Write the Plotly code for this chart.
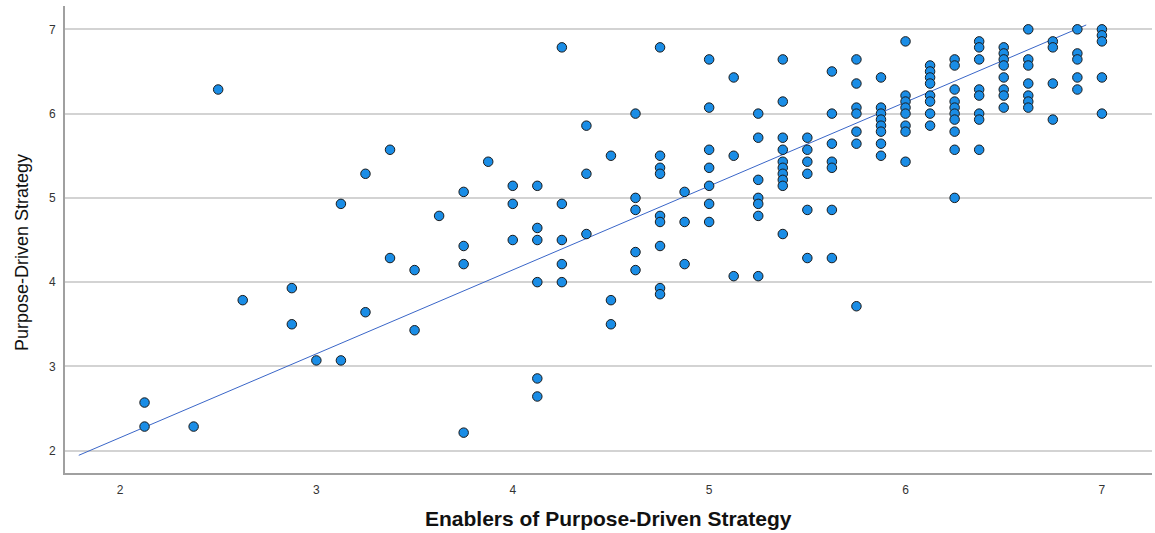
import plotly.graph_objects as go

# Enablers of Purpose-Driven Strategy (x) and Purpose-Driven Strategy (y), read column by column
enablers = (
    [2.125] * 2 + [2.375] + [2.5] + [2.625] + [2.875] * 2 + [3.0] + [3.125] * 2 + [3.25] * 2 +
    [3.375] * 2 + [3.5] * 2 + [3.625] + [3.75] * 4 + [3.875] + [4.0] * 3 + [4.125] * 6 +
    [4.25] * 5 + [4.375] * 3 + [4.5] * 3 + [4.625] * 5 + [4.75] * 9 + [4.875] * 3 + [5.0] * 7 +
    [5.125] * 3 + [5.25] * 7 + [5.375] * 10 + [5.5] * 6 + [5.625] * 7 + [5.75] * 7 +
    [5.875] * 8 + [6.0] * 8 + [6.125] * 8 + [6.25] * 10 + [6.375] * 8 + [6.5] * 8 +
    [6.625] * 7 + [6.75] * 4 + [6.875] * 5 + [7.0] * 5
)
purpose = [
    2.571, 2.286,
    2.286,
    6.286,
    3.786,
    3.929, 3.5,
    3.071,
    4.929, 3.071,
    5.286, 3.643,
    5.571, 4.286,
    4.143, 3.429,
    4.786,
    5.071, 4.429, 4.214, 2.214,
    5.429,
    5.143, 4.929, 4.5,
    5.143, 4.643, 4.5, 4.0, 2.857, 2.643,
    6.786, 4.929, 4.5, 4.214, 4.0,
    5.857, 5.286, 4.571,
    5.5, 3.786, 3.5,
    6.0, 5.0, 4.857, 4.357, 4.143,
    6.786, 5.5, 5.357, 5.286, 4.786, 4.714, 4.429, 3.929, 3.857,
    5.071, 4.714, 4.214,
    6.643, 6.071, 5.571, 5.357, 5.143, 4.929, 4.714,
    6.429, 5.5, 4.071,
    6.0, 5.714, 5.214, 5.0, 4.929, 4.786, 4.071,
    6.643, 6.143, 5.714, 5.571, 5.429, 5.357, 5.286, 5.214, 5.143, 4.571,
    5.714, 5.571, 5.429, 5.286, 4.857, 4.286,
    6.5, 6.0, 5.643, 5.429, 5.357, 4.857, 4.286,
    6.643, 6.357, 6.071, 6.0, 5.786, 5.643, 3.714,
    6.429, 6.071, 6.0, 5.929, 5.857, 5.786, 5.643, 5.5,
    6.857, 6.214, 6.143, 6.071, 6.0, 5.857, 5.786, 5.429,
    6.571, 6.5, 6.429, 6.357, 6.214, 6.143, 6.0, 5.857,
    6.643, 6.571, 6.286, 6.143, 6.071, 6.0, 5.929, 5.786, 5.571, 5.0,
    6.857, 6.786, 6.643, 6.286, 6.214, 6.0, 5.929, 5.571,
    6.786, 6.714, 6.643, 6.571, 6.429, 6.286, 6.214, 6.071,
    7.0, 6.643, 6.571, 6.357, 6.214, 6.143, 6.071,
    6.857, 6.786, 6.357, 5.929,
    7.0, 6.714, 6.643, 6.429, 6.286,
    7.0, 6.929, 6.857, 6.429, 6.0,
]

# Fit line
fit_intercept = 0.163
fit_slope = 0.9955
fit_x = [1.79, 6.92]
fit_y = [fit_intercept + fit_slope * v for v in fit_x]

x_ticks = [2, 3, 4, 5, 6, 7]
y_ticks = [2, 3, 4, 5, 6, 7]
x_title = "Enablers of Purpose-Driven Strategy"
y_title = "Purpose-Driven Strategy"

fig = go.Figure()
fig.add_trace(go.Scatter(
    x=fit_x, y=fit_y, mode="lines",
    line=dict(color="#3a66c8", width=1),
    hoverinfo="skip", showlegend=False,
))
fig.add_trace(go.Scatter(
    x=enablers, y=purpose, mode="markers",
    marker=dict(size=9.5, color="#1a8de6", line=dict(color="#1a1a1a", width=1)),
    showlegend=False,
))

fig.update_layout(
    width=1155, height=533,
    margin=dict(l=65, r=3, t=6, b=60, autoexpand=False),
    paper_bgcolor="white", plot_bgcolor="white",
    font=dict(family="Liberation Sans, Arial, sans-serif", color="#222"),
    xaxis=dict(
        range=[1.72, 7.255], tickvals=x_ticks, ticktext=[str(v) for v in x_ticks],
        showgrid=False, zeroline=False, automargin=False,
        showline=True, linecolor="#a0a0a0", linewidth=2,
        ticks="outside", ticklen=5, tickcolor="rgba(0,0,0,0)",
        tickfont=dict(size=12, color="#333333"),
    ),
    yaxis=dict(
        range=[1.735, 7.277], tickvals=y_ticks, ticktext=[str(v) for v in y_ticks],
        showgrid=True, gridcolor="#d3d3d3", gridwidth=1.5, zeroline=False, automargin=False,
        showline=True, linecolor="#a0a0a0", linewidth=2,
        ticks="outside", ticklen=5, tickcolor="rgba(0,0,0,0)",
        tickfont=dict(size=12, color="#333333"),
    ),
    annotations=[
        dict(text="<b>" + x_title + "</b>", xref="paper", yref="paper",
             x=0.5, y=-0.0985, xanchor="center", yanchor="middle", showarrow=False,
             font=dict(size=21, color="#111")),
        dict(text=y_title, xref="paper", yref="paper", textangle=-90,
             x=-0.0396, y=0.473, xanchor="center", yanchor="middle", showarrow=False,
             font=dict(family="Liberation Sans Narrow, Liberation Sans, Arial", size=18, color="#111")),
    ],
)

fig.write_html("out.html", config={"displayModeBar": False},
               post_script="document.body.style.margin='0';")
